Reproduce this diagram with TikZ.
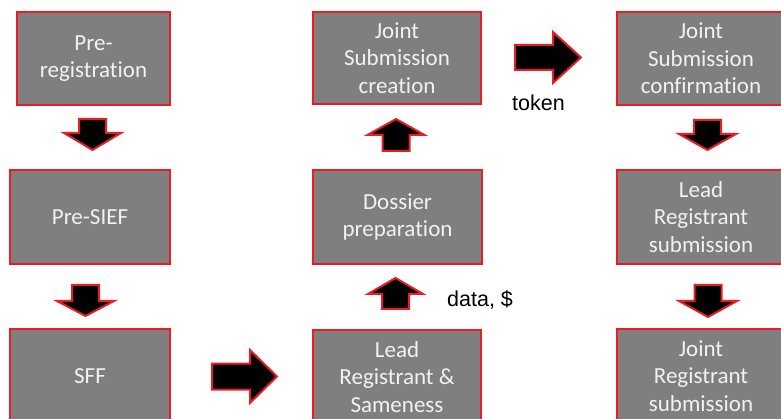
\documentclass[tikz,border=0pt]{standalone}
\usepackage{fontspec}
\newfontfamily\boxfont[Ligatures=CommonOff]{Carlito}
\newfontfamily\labelfont{Liberation Sans}
\definecolor{boxgray}{RGB}{127,127,127}
\definecolor{edgered}{RGB}{237,28,36}
\definecolor{boxtext}{RGB}{242,242,242}
\tikzset{
  stage/.style={draw=edgered, line width=2.4pt, fill=boxgray, text=boxtext,
    align=center, inner sep=0pt,
    font=\boxfont\fontsize{23}{27.5}\selectfont},
  arrowbody/.style={draw=edgered, line width=2pt, fill=black, line join=miter},
  flowlabel/.style={inner sep=0pt, font=\labelfont\fontsize{21.5}{26}\selectfont},
  % block arrow pointing along +x, origin at the tail centre
  % arguments: length / head width / stem width / head length
  pics/blockarrow/.style args={#1/#2/#3/#4}{code={
    \draw[arrowbody] (0,-#3/2) -- (#1-#4,-#3/2) -- (#1-#4,-#2/2) -- (#1,0)
      -- (#1-#4,#2/2) -- (#1-#4,#3/2) -- (0,#3/2) -- cycle;
  }}
}
\begin{document}
\begin{tikzpicture}[x=1pt, y=-1pt]
\useasboundingbox (0,0) rectangle (781,419);
\begin{scope}
\clip (0,0) rectangle (781,419);
% first column
\node[stage, minimum width=153pt, minimum height=93pt] (prereg) at (93.5,58.5) {Pre-\\registration};
\node[stage, minimum width=160pt, minimum height=94pt] (presief) at (90,217) {Pre-SIEF};
\node[stage, minimum width=160pt, minimum height=94pt] (sff) at (90,376) {SFF};
% second column
\node[stage, minimum width=168pt, minimum height=92pt] (jscreate) at (397,58) {Joint\\Submission\\creation};
\node[stage, minimum width=169pt, minimum height=94pt] (dossier) at (397.5,217) {Dossier\\preparation};
\node[stage, minimum width=168pt, minimum height=94pt] (leadsame) at (397,377) {Lead\\Registrant \&\\Sameness};
% third column
\node[stage, minimum width=168pt, minimum height=93pt] (jsconfirm) at (701,58.5) {Joint\\Submission\\confirmation};
\node[stage, minimum width=168pt, minimum height=94pt] (leadsub) at (701,217) {Lead\\Registrant\\submission};
\node[stage, minimum width=168pt, minimum height=94pt] (jointreg) at (701,376) {Joint\\Registrant\\submission};
\end{scope}
% block arrows between the stages
\pic[rotate=-90] at (92.5,119) {blockarrow={31/57/27/17}};
\pic[rotate=-90] at (85.5,285) {blockarrow={31/57/27/15}};
\pic at (212,376.5) {blockarrow={65/53/26/27}};
\pic[rotate=90] at (395.5,309) {blockarrow={31/55/27/16}};
\pic[rotate=90] at (396,151) {blockarrow={32/57/27/16}};
\pic at (515,57.5) {blockarrow={66/51/25/28}};
\pic[rotate=-90] at (707.5,120) {blockarrow={30/57/27/16}};
\pic[rotate=-90] at (708,285) {blockarrow={32/58/27/16}};
% labels on the hand-overs
\node[flowlabel, anchor=base west] (tokenlbl) at (512,111) {token};
\node[flowlabel, anchor=base west] (datalbl) at (447,307) {data, \$};
\end{tikzpicture}
\end{document}
